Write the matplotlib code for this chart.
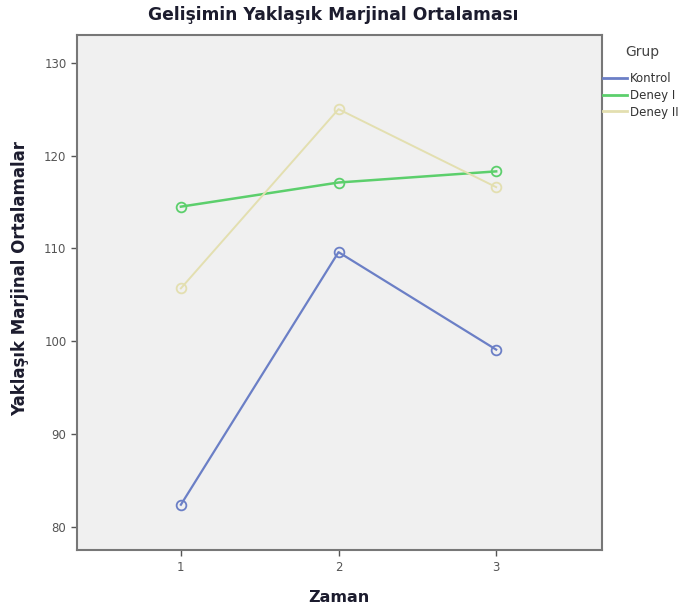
import matplotlib
matplotlib.use("Agg")
import matplotlib.pyplot as plt
from matplotlib.lines import Line2D

zaman = [1, 2, 3]
groups = ["Kontrol", "Deney I", "Deney II"]
kontrol = [82.4, 109.6, 99.1]
deney1 = [114.5, 117.1, 118.3]
deney2 = [105.7, 125.0, 116.6]
colors = ["#6b7fc6", "#5ccf6c", "#e3dfb0"]
yticks = [80, 90, 100, 110, 120, 130]

fig = plt.figure(figsize=(6.8, 6.12), dpi=100)
ax = fig.add_axes([0.113, 0.101, 0.772, 0.842])
ax.set_facecolor("#f0f0f0")

for vals, c, lw in zip([kontrol, deney1, deney2], colors, [1.6, 1.8, 1.4]):
    ax.plot(zaman, vals, color=c, lw=lw, marker="o", ms=7, mfc="none", mec=c, mew=1.3)

ax.set_xlim(0.34, 3.67)
ax.set_ylim(77.5, 133.0)
ax.set_xticks(zaman)
ax.set_yticks(yticks)
ax.tick_params(axis="both", labelsize=8.5, colors="#555555", length=4, width=1)
for s in ax.spines.values():
    s.set_color("#777777")
    s.set_linewidth(1.5)

lab = dict(family="DejaVu Sans", fontweight="bold", color="#1c1c2e")
ax.set_xlabel("Zaman", labelpad=12, fontsize=11.5, **lab)
ax.set_ylabel("Yaklaşık Marjinal Ortalamalar", fontsize=12, **lab)
ax.yaxis.set_label_coords(-0.090, 0.528)
fig.text(0.49, 0.975, "Gelişimin Yaklaşık Marjinal Ortalaması", ha="center", va="center",
         fontsize=12.3, **lab)

fig.text(642 / 680, 1 - 52 / 612, "Grup", ha="center", va="center", fontsize=10, color="#444444")
handles = [Line2D([0], [0], color=c, lw=2) for c in colors]
leg = fig.legend(handles, groups, loc="upper left", bbox_to_anchor=(603 / 680, 1 - 72 / 612),
                 frameon=False, prop={"size": 8.5}, borderpad=0,
                 handlelength=2.0, handletextpad=0.3, labelspacing=0.32, borderaxespad=0)
for t in leg.get_texts():
    t.set_color("#333333")

fig.savefig("out.png", dpi=100)
